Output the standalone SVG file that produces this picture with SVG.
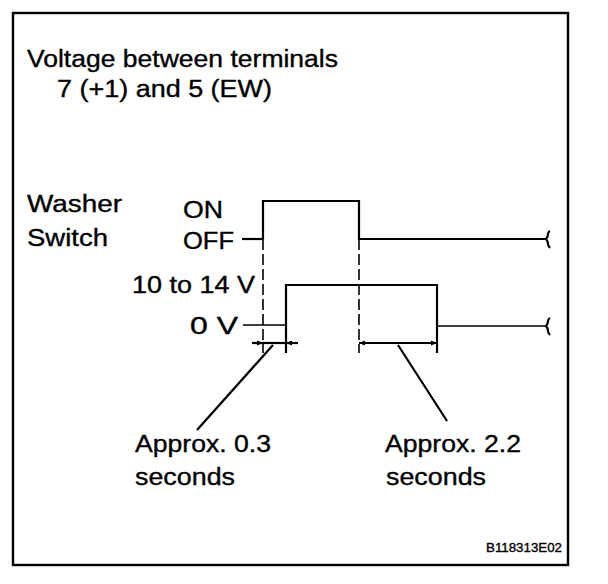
<svg xmlns="http://www.w3.org/2000/svg" width="608" height="584" viewBox="0 0 608 584">
<style>
text{font-family:"Liberation Sans",Arial,sans-serif;fill:#000;stroke:#000;stroke-width:0.35}
.t{font-size:23px}
.s{stroke:#000;fill:none;stroke-width:2.2}
.th{stroke:#000;fill:none;stroke-width:1.4}
.d{stroke:#000;fill:none;stroke-width:1.6;stroke-dasharray:11 4}
</style>
<defs>
<marker id="ah" viewBox="0 0 10 10" refX="10" refY="5" markerWidth="8" markerHeight="6" markerUnits="userSpaceOnUse" orient="auto">
<path d="M0,1 L10,5 L0,9 Z" fill="#000"/>
</marker>
</defs>
<rect x="0" y="0" width="608" height="584" fill="#fff"/>
<rect id="frame" x="13" y="13" width="555" height="552" fill="none" stroke="#000" stroke-width="2.4"/>
<g id="title">
<text class="t" x="27" y="67" textLength="311" lengthAdjust="spacingAndGlyphs">Voltage between terminals</text>
<text class="t" x="57" y="97" textLength="215" lengthAdjust="spacingAndGlyphs">7 (+1) and 5 (EW)</text>
</g>
<g id="labels">
<text class="t" x="27" y="212" textLength="95" lengthAdjust="spacingAndGlyphs">Washer</text>
<text class="t" x="27" y="246" textLength="81" lengthAdjust="spacingAndGlyphs">Switch</text>
<text class="t" x="183" y="218" textLength="40" lengthAdjust="spacingAndGlyphs">ON</text>
<text class="t" x="183" y="249" textLength="51" lengthAdjust="spacingAndGlyphs">OFF</text>
<text class="t" x="132" y="293" textLength="123" lengthAdjust="spacingAndGlyphs">10 to 14 V</text>
<text class="t" x="190" y="334" textLength="48" lengthAdjust="spacingAndGlyphs">0 V</text>
</g>
<g id="connectors">
<path class="s" d="M242,239 H263" stroke-width="3"/>
<path class="s" d="M263,239 V201 H359 V239 H546"/>
<path class="s" d="M546,239 q2,-2 2,-5 q0,-2 2,-3 M546,239 q2,2 2,5 q0,2 2,4" stroke-width="1.3"/>
<path class="th" d="M243,325 H286"/>
<path class="s" d="M286,353 V285 H437 V353"/>
<path class="th" d="M437,326 H546"/>
<path class="s" d="M546,326 q2,-2 2,-5 q0,-2 2,-3 M546,326 q2,2 2,5 q0,2 2,4" stroke-width="1.3"/>
<path class="d" d="M263,239 V353"/>
<path class="d" d="M359,239 V353"/>
<path class="s" d="M252,343 H263" marker-end="url(#ah)"/>
<path class="s" d="M298,343 H286" marker-end="url(#ah)"/>
<path class="s" d="M263,343 H286"/>
<path class="s" d="M398,343 H359" marker-end="url(#ah)"/>
<path class="s" d="M398,343 H437" marker-end="url(#ah)"/>
<path class="s" d="M273,345 L197,430"/>
<path class="s" d="M398,345 L447,421"/>
</g>
<g id="notes">
<text class="t" x="135" y="452" textLength="136" lengthAdjust="spacingAndGlyphs">Approx. 0.3</text>
<text class="t" x="135" y="485" textLength="100" lengthAdjust="spacingAndGlyphs">seconds</text>
<text class="t" x="385" y="452" textLength="136" lengthAdjust="spacingAndGlyphs">Approx. 2.2</text>
<text class="t" x="386" y="485" textLength="100" lengthAdjust="spacingAndGlyphs">seconds</text>
<text x="486" y="552" font-size="12.5" textLength="76" lengthAdjust="spacingAndGlyphs">B118313E02</text>
</g>
</svg>
